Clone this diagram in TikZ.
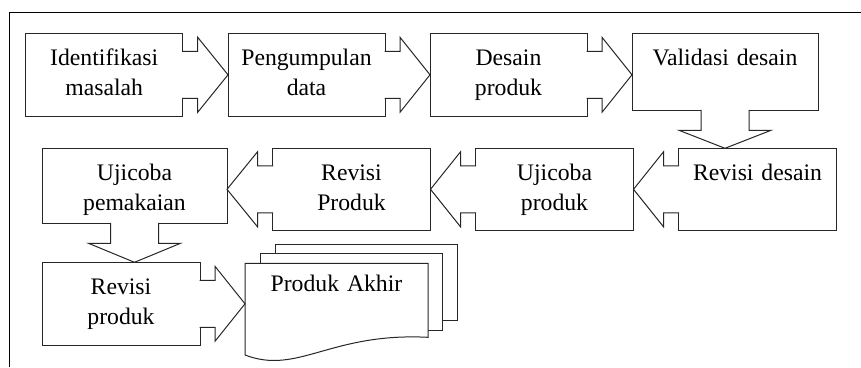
\documentclass[tikz,border=0pt]{standalone}
\usepackage{fontspec}
\setmainfont{Liberation Serif}
\usetikzlibrary{calc,backgrounds}

\begin{document}
\begin{tikzpicture}[
  x=1pt, y=-1pt,
  font=\fontsize{23.7pt}{30pt}\selectfont,
  stage/.style={draw=black!85,line width=1pt,inner sep=0pt,outer sep=0pt,anchor=north west,
                align=center,text width=157pt,text height=32pt,text depth=51pt},
  blk/.style={draw=black!85,line width=1pt,line join=miter},
  page/.style={draw=black!85,line width=1pt,fill=white},
  frame/.style={draw=black,line width=1.2pt},
]
\useasboundingbox (0,0) rectangle (861,367);
\draw[frame] (861,12.7) -- (9.3,12.7) -- (9.3,367);

\node[stage] (idn) at (25.7,33.3) {Identifikasi\\masalah};
\node[stage] (kum) at (228,33.3) {Pengumpulan\\data};
\node[stage] (des) at (430,33.3) {Desain\\produk};
\node[stage,text width=186pt,text depth=45pt] (val) at (632,33.3) {Validasi desain};

\node[stage,text width=158pt,text depth=50pt] (rvd) at (678.5,148.3) {Revisi desain};
\node[stage,text width=158pt,text depth=50pt] (ujp) at (475.5,148.3) {Ujicoba\\produk};
\node[stage,text width=158pt,text depth=50pt] (rvP) at (272.5,148.3) {Revisi\\Produk};
\node[stage,text width=185pt,text depth=43pt] (ujm) at (42,148.3) {Ujicoba\\pemakaian};

\node[stage,text width=158pt] (rvq) at (42,262.3) {Revisi\\produk};
\node[stage,draw=none,text width=183pt,text height=28pt,text depth=46pt] (akh) at (245,263.3) {Produk Akhir};

\begin{scope}[on background layer]
  \foreach \d in {2,1}
    \draw[page] ($(akh.north west)+(15*\d,-9.6*\d)$) rectangle ++(182,76.5);
  \draw[page] (akh.north west) -- (akh.north east) -- (akh.south east)
    .. controls ($(akh.south east)+(-98,-5)$) and ($(akh.south west)+(53,38)$) .. ($(akh.south west)+(0,17.7)$) -- cycle;
\end{scope}

\foreach \a/\b in {idn/kum,kum/des,des/val,rvq/akh}{
  \fill[white] ($(\a.east)+(-2,-23.5)$) rectangle ($(\a.east)+(15,23.5)$);
  \draw[blk] ($(\a.east)+(-0.5,-23.5)$) -- ++(15.5,0) -- ++(0,-14) -- (\a.east -| \b.west)
    -- ($(\a.east)+(15,37.5)$) -- ++(0,-14) -- ($(\a.east)+(-0.5,23.5)$);
}
\foreach \a/\b in {rvd/ujp,ujp/rvP,rvP/ujm}{
  \fill[white] ($(\a.west)+(2,-23.5)$) rectangle ($(\a.west)+(-15,23.5)$);
  \draw[blk] ($(\a.west)+(0.5,-23.5)$) -- ++(-15.5,0) -- ++(0,-14) -- (\a.west -| \b.east)
    -- ($(\a.west)+(-15,37.5)$) -- ++(0,-14) -- ($(\a.west)+(0.5,23.5)$);
}
\foreach \a/\b in {val/rvd,ujm/rvq}{
  \fill[white] ($(\a.south)+(-24,-2)$) rectangle ($(\a.south)+(24,20)$);
  \draw[blk] ($(\a.south)+(-24,-0.5)$) -- ++(0,20.5) -- ++(-22,0) -- (\a.south |- \b.north)
    -- ($(\a.south)+(46,20)$) -- ++(-22,0) -- ($(\a.south)+(24,-0.5)$);
}
\end{tikzpicture}
\end{document}
